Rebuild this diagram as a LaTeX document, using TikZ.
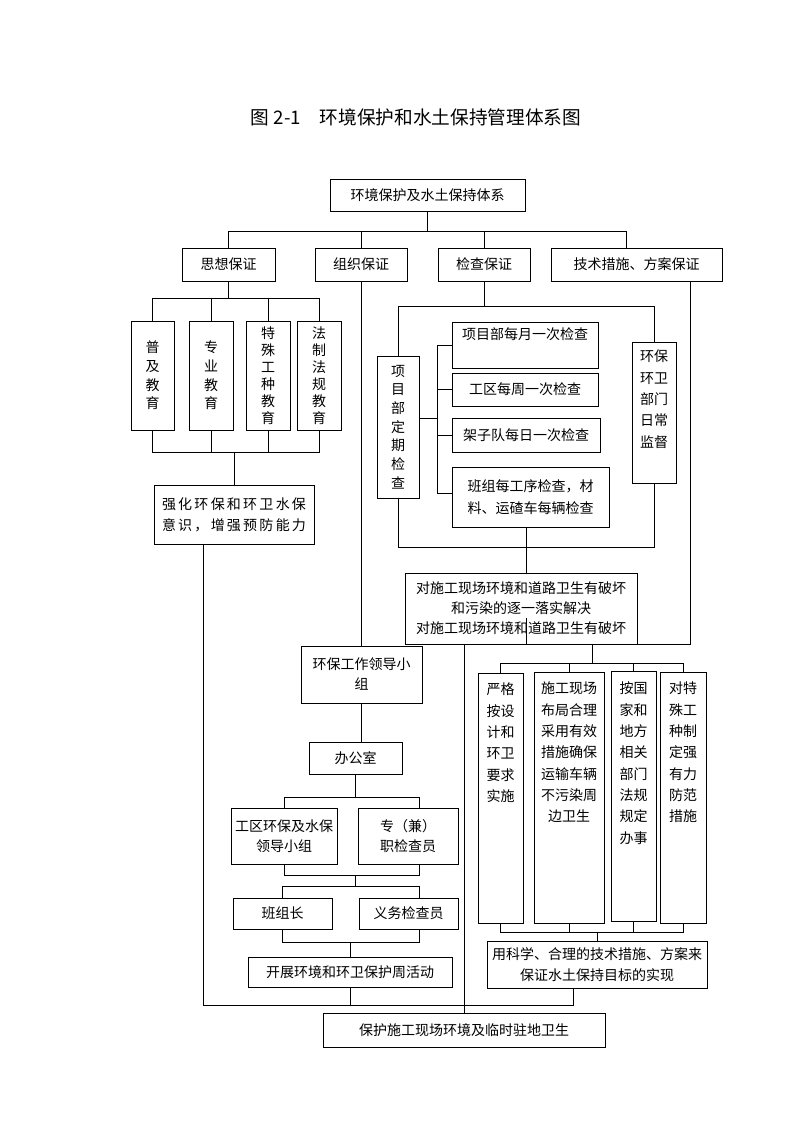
\documentclass[tikz,border=0pt]{standalone}
\usepackage{fontspec}
\newfontfamily\cjk{Noto Sans CJK SC}
\usetikzlibrary{positioning}
% 文字靠上的竖长框
\newcommand{\colbox}[4]{\begin{minipage}[c][\dimexpr#2pt*3/4\relax][t]{\dimexpr#1pt*3/4\relax}\centering\vspace*{\dimexpr#3pt*3/4\relax}#4\end{minipage}}

\begin{document}
\begin{tikzpicture}[
	x=0.75pt,y=-0.75pt,line width=0.7pt,
	font=\cjk\fontsize{10.5}{14}\selectfont,
	sz/.style 2 args={minimum width=#1*0.75pt,minimum height=#2*0.75pt},
	box/.style={draw,rectangle,inner sep=0pt,align=center},
	ls/.style={font=\cjk\fontsize{10.5}{#1}\selectfont},
	tbox/.style={draw,rectangle,inner sep=0pt}
	]
	\useasboundingbox (0,0) rectangle (794,1123);
	
	% 标题
	\node[font=\cjk\fontsize{14}{16}\selectfont] (title) at (416,117) {图 2-1　环境保护和水土保持管理体系图};
	
	% 第一、二层
	\node[box,sz={195}{32}] (top) at (427.5,195) {环境保护及水土保持体系};
	\node[box,sz={93}{33}] (sixiang) at (228.5,264.5) {思想保证};
	\node[box,sz={92}{33}] (zuzhi) at (361,264.5) {组织保证};
	\node[box,sz={92}{33}] (jiancha) at (484,264.5) {检查保证};
	\node[box,sz={171}{33}] (jishu) at (636.5,264.5) {技术措施、方案保证};
	
	% 思想保证
	\node[box,sz={43}{109}] (puji) at (152.5,375.5) {普\\及\\教\\育};
	\node[box,sz={44}{109}] (zhuanye) at (211,375.5) {专\\业\\教\\育};
	\node[box,sz={44}{109},ls=12.75] (teshu) at (268,375.5) {特\\殊\\工\\种\\教\\育};
	\node[box,sz={44}{109},ls=12.75] (fazhi) at (319,375.5) {法\\制\\法\\规\\教\\育};
	\node[box,sz={160}{59},ls=15.75] (qianghua) at (234,514.5) {\makebox[108pt][s]{强 化 环 保 和 环 卫 水 保}\\\makebox[108pt][s]{意 识 ， 增 强 预 防 能 力}};
	
	% 检查保证
	\node[box,sz={42}{142}] (dingqi) at (398,427) {项\\目\\部\\定\\期\\检\\查};
	\node[tbox] (yue) at (525,345) {\colbox{146}{46}{6}{项目部每月一次检查}};
	\node[box,sz={146}{33}] (zhou) at (525,389.5) {工区每周一次检查};
	\node[box,sz={148}{34}] (ri) at (526,435) {架子队每日一次检查};
	\node[box,sz={157}{60},ls=17] (banzu) at (530.5,497) {班组每工序检查，材\\料、运碴车每辆检查};
	\node[tbox,ls=16] (huanbao) at (654,412.5) {\colbox{44}{141}{8}{环保\\环卫\\部门\\日常\\监督}};
	\node[box,sz={232}{71},ls=15] (duishigong) at (521,608.5) {对施工现场环境和道路卫生有破坏\\和污染的逐一落实解决\\对施工现场环境和道路卫生有破坏};
	
	% 组织保证
	\node[box,sz={121}{57},ls=15] (lingdao) at (361.5,674.5) {环保工作领导小\\组};
	\node[box,sz={93}{32}] (bangong) at (355.5,758) {办公室};
	\node[box,sz={106}{56},ls=15] (gongqu) at (284,836) {工区环保及水保\\领导小组};
	\node[box,sz={100}{56},ls=15] (zhuanjian) at (408,836) {专（兼）\\职检查员};
	\node[box,sz={99}{31}] (banzuzhang) at (282.5,913.5) {班组长};
	\node[box,sz={99}{31}] (yiwu) at (408.5,913.5) {义务检查员};
	\node[box,sz={204}{30}] (kaizhan) at (350,972) {开展环境和环卫保护周活动};
	
	% 技术措施
	\node[tbox,ls=16] (yange) at (500.5,798) {\colbox{45}{250}{10}{严格\\按设\\计和\\环卫\\要求\\实施}};
	\node[tbox,ls=16] (shigong) at (569,797.5) {\colbox{70}{251}{10}{施工现场\\布局合理\\采用有效\\措施确保\\运输车辆\\不污染周\\边卫生}};
	\node[tbox,ls=16] (anguojia) at (633.5,796) {\colbox{45}{250}{11}{按国\\家和\\地方\\相关\\部门\\法规\\规定\\办事}};
	\node[tbox,ls=16] (duite) at (683,797.5) {\colbox{46}{251}{10}{对特\\殊工\\种制\\定强\\有力\\防范\\措施}};
	\node[box,sz={220}{47},ls=15.75] (yongkexue) at (597,964.5) {用科学、合理的技术措施、方案来\\保证水土保持目标的实现};
	
	% 最后
	\node[box,sz={282}{34}] (baohu) at (464,1030) {保护施工现场环境及临时驻地卫生};
	
	% 连线：第一层
	\draw (top.south) -- ++(0,20) coordinate (tbus);
	\draw (sixiang.north) |- (tbus -| 626,0) -- (jishu.north -| 626,0);
	\draw (zuzhi.north) -- (zuzhi.north |- tbus);
	\draw (jiancha.north) -- (jiancha.north |- tbus);
	
	% 连线：思想保证
	\draw (sixiang.south) -- ++(0,17) coordinate (ebus);
	\draw (puji.north) |- (ebus) -| (fazhi.north);
	\draw (zhuanye.north) -- (zhuanye.north |- ebus);
	\draw (teshu.north) -- (teshu.north |- ebus);
	\draw (qianghua.north) -- ++(0,-32) coordinate (ebus2);
	\draw (puji.south) |- (ebus2) -| (fazhi.south);
	\draw (zhuanye.south) -- (zhuanye.south |- ebus2);
	\draw (teshu.south) -- (teshu.south |- ebus2);
	
	% 连线：检查保证
	\draw (jiancha.south) -- ++(0,25) coordinate (cbus);
	\draw (dingqi.north) |- (cbus) -| (huanbao.north);
	\draw (dingqi.east |- 0,418) -- ++(18,0) coordinate (cjoin);
	\draw (yue.west) -| (cjoin |- 0,493) -- (banzu.west |- 0,493);
	\draw (zhou.west) -- (zhou.west -| cjoin);
	\draw (ri.west) -- (ri.west -| cjoin);
	\draw (dingqi.south) |- (huanbao.south |- 0,547) -- (huanbao.south);
	\draw (banzu.south -| 526,0) -- (duishigong.north -| 526,0);
	\draw (duishigong.south -| 526,0) -- ++(0,-26);
	\draw (jishu.south -| 690,0) |- (duishigong.south east);
	
	% 连线：组织保证
	\draw (zuzhi.south) -- (zuzhi.south |- lingdao.north);
	\draw (lingdao.south) -- (lingdao.south |- bangong.north);
	\draw (bangong.south) -- ++(0,23) coordinate (obus);
	\draw (gongqu.north) |- (obus) -| (zhuanjian.north -| 419,0);
	\draw (gongqu.south) -- ++(0,11) -| (zhuanjian.south -| 419,0);
	\draw (bangong.south |- 0,875) -- (bangong.south |- 0,887);
	\draw (banzuzhang.north) -- ++(0,-11) -| (yiwu.north -| 419,0);
	\draw (banzuzhang.south) -- ++(0,13) -| (yiwu.south -| 419,0);
	\draw (kaizhan.north) -- ++(0,-15);
	
	% 连线：技术措施
	\draw (duishigong.south -| 592,0) -- ++(0,19) coordinate (rbus);
	\draw (yange.north) |- (rbus) -| (duite.north);
	\draw (shigong.north) -- (shigong.north |- rbus);
	\draw (anguojia.north) -- (anguojia.north |- rbus);
	\draw (yongkexue.north) -- ++(0,-8) coordinate (rbus2);
	\draw (yange.south) |- (rbus2) -| (duite.south);
	\draw (shigong.south) -- (shigong.south |- rbus2);
	\draw (anguojia.south) -- (anguojia.south |- rbus2);
	
	% 连线：汇总
	\draw (qianghua.south -| 203,0) |- (kaizhan.south |- 0,1005) -| (yongkexue.south -| 573,0);
	\draw (kaizhan.south) -- ++(0,18);
	\draw (duishigong.south -| baohu.north) -- (baohu.north);
	
\end{tikzpicture}
\end{document}
